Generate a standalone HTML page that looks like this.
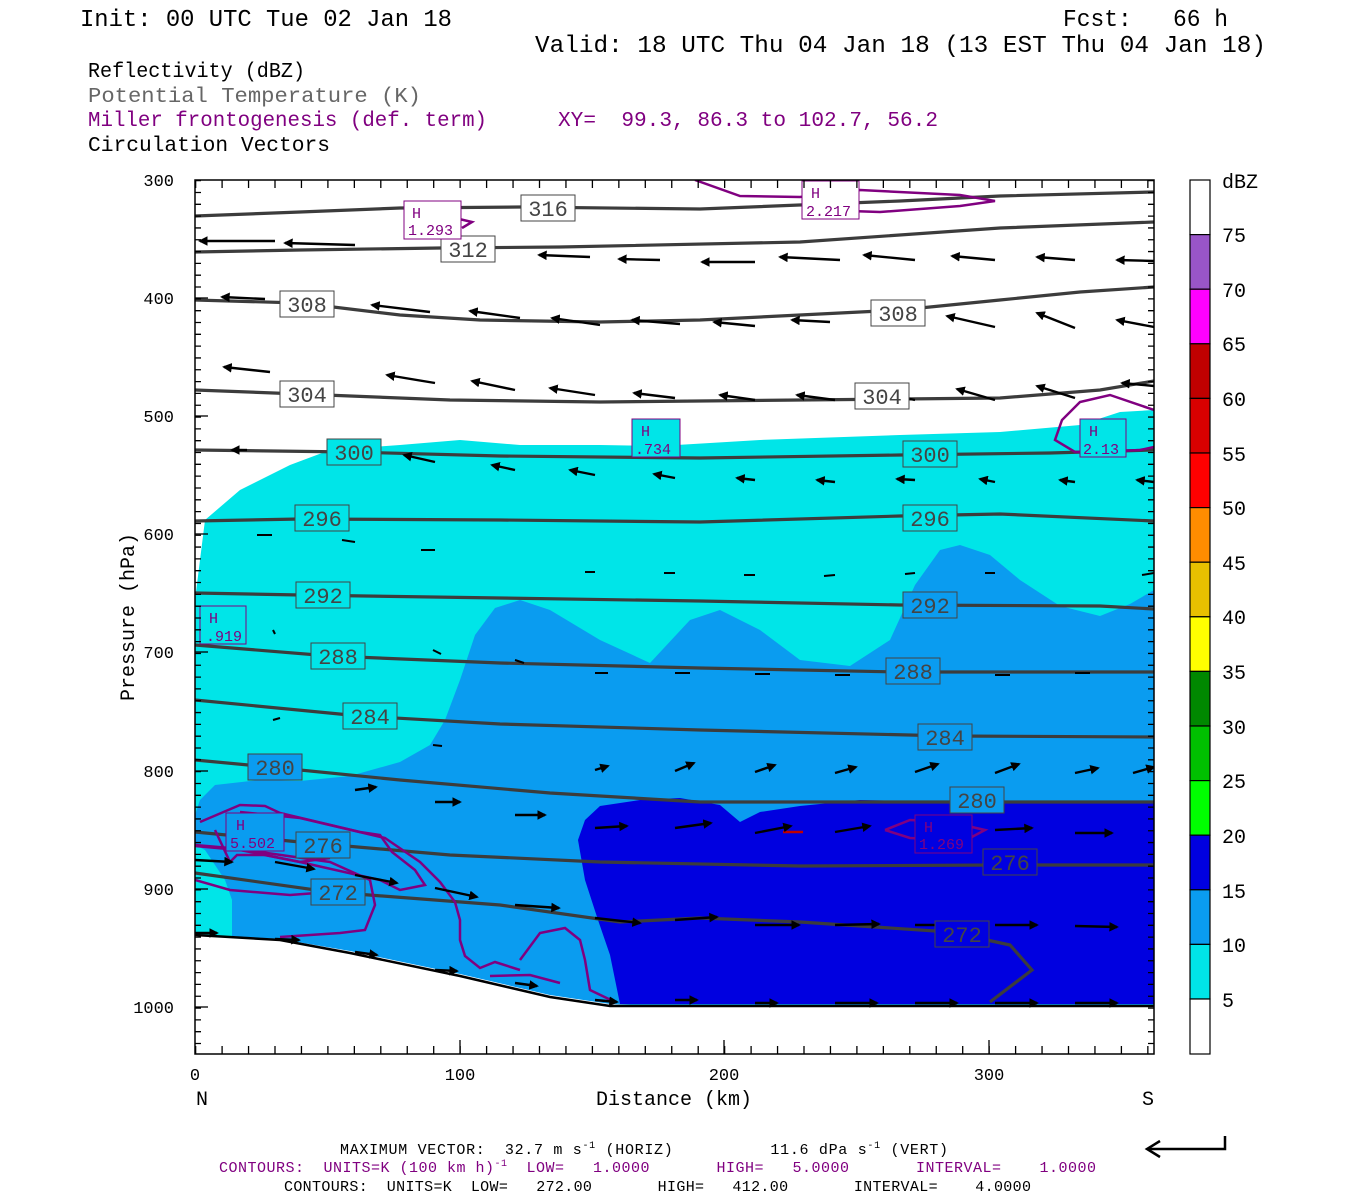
<!DOCTYPE html>
<html><head><meta charset="utf-8"><style>
html,body{margin:0;padding:0;background:#fff;}
svg{display:block;}
text{font-family:"Liberation Mono",monospace;white-space:pre;}
</style></head><body>
<svg width="1350" height="1200" viewBox="0 0 1350 1200" xmlns="http://www.w3.org/2000/svg" xml:space="preserve">
<defs>
<marker id="ah" markerWidth="4" markerHeight="4" refX="3.2" refY="2" orient="auto" markerUnits="strokeWidth">
<path d="M0,0 L4,2 L0,4 Z" fill="#000"/>
</marker>
<clipPath id="pc"><rect x="195" y="180" width="959" height="874"/></clipPath>
</defs>
<rect width="1350" height="1200" fill="#fff"/>

<text x="80" y="26" font-size="24" textLength="372" lengthAdjust="spacingAndGlyphs">Init: 00 UTC Tue 02 Jan 18</text>
<text x="1063" y="26" font-size="24" textLength="165" lengthAdjust="spacingAndGlyphs">Fcst:   66 h</text>
<text x="535" y="52" font-size="24" textLength="731" lengthAdjust="spacingAndGlyphs">Valid: 18 UTC Thu 04 Jan 18 (13 EST Thu 04 Jan 18)</text>
<text x="88" y="77" font-size="21" textLength="217" lengthAdjust="spacingAndGlyphs">Reflectivity (dBZ)</text>
<text x="88" y="102" font-size="21" fill="#666" textLength="333" lengthAdjust="spacingAndGlyphs">Potential Temperature (K)</text>
<text x="88" y="126" font-size="21" fill="#800080" textLength="399" lengthAdjust="spacingAndGlyphs">Miller frontogenesis (def. term)</text>
<text x="558" y="126" font-size="21" fill="#800080" textLength="380" lengthAdjust="spacingAndGlyphs">XY=  99.3, 86.3 to 102.7, 56.2</text>
<text x="88" y="151" font-size="21" textLength="242" lengthAdjust="spacingAndGlyphs">Circulation Vectors</text>

<g clip-path="url(#pc)">
<polygon fill="#00e5e8" points="195,600 205,520 240,490 290,465 330,450 400,445 460,440 520,445 600,445 660,446 760,440 900,435 1000,432 1080,425 1120,412 1154,410 1154,1010 195,1010"/>
<polygon fill="#0a9cf0" points="195,815 200,800 215,785 260,780 300,781 350,776 400,762 430,745 445,720 460,680 475,635 495,608 520,600 550,610 600,640 650,663 690,620 720,610 760,630 800,660 850,666 890,640 915,585 940,550 960,545 990,555 1020,580 1060,606 1100,616 1130,604 1154,590 1154,1010 230,1010 232,935 232,900 225,880 205,850 195,845"/>
<polygon fill="#0000e0" points="578,840 585,820 600,806 640,800 680,798 720,805 740,822 760,812 800,806 860,800 1000,803 1154,803 1154,1004 620,1004 610,955 598,920 585,880"/>
<polygon fill="#fff" points="195,934 280,939 350,951 460,974 550,995 610,1004 650,1006 1154,1006 1154,1054 195,1054"/>
<polyline fill="none" stroke="#000" stroke-width="2.5" points="195,935 280,940 350,953 460,976 550,997 610,1006 1154,1006"/>

<g fill="none" stroke="#3c3c3c" stroke-width="3.2">
<polyline points="195,216 300,212 400,208 520,207 700,209 900,201 1000,196 1154,192"/>
<polyline points="195,252 300,250 440,248 560,247 800,242 1000,228 1154,222"/>
<polyline points="195,300 300,303 400,315 480,320 600,322 700,320 800,315 900,310 1000,300 1080,292 1154,287"/>
<polyline points="195,390 300,394 450,400 600,402 800,400 1000,398 1100,390 1154,381"/>
<polyline points="195,450 350,452 500,456 700,458 900,455 1050,453 1154,450"/>
<polyline points="195,521 300,519 500,520 700,522 900,516 1000,514 1154,521"/>
<polyline points="195,593 300,595 500,598 700,601 900,605 1100,606 1154,609"/>
<polyline points="195,645 330,656 500,663 700,668 900,672 1154,672"/>
<polyline points="195,700 360,716 500,724 700,730 950,736 1154,737"/>
<polyline points="195,760 270,767 400,780 550,793 700,802 900,802 1000,802 1154,802"/>
<polyline points="195,832 300,842 450,855 600,862 800,866 1000,865 1154,865"/>
<polyline points="195,873 330,892 500,905 620,922 700,918 800,922 950,932 1010,945 1032,970 990,1002"/>
</g>

<g fill="none" stroke="#800080" stroke-width="2.5">
<polyline points="695,180 740,196 800,197 860,190 960,195 995,201 960,206 880,212 820,210"/>
<polyline points="455,218 472,222 462,228"/>
<polyline points="1154,410 1110,395 1080,402 1062,420 1055,440 1075,452 1100,452 1140,450 1154,447"/>
<polyline points="200,822 240,805 265,806 280,813 360,832 380,835 392,852 415,870 425,885 410,888 400,890 380,880 300,862 265,855 237,855 230,862 215,830"/>
<polyline points="240,812 300,818 385,838 420,862 440,882 455,902 460,920 460,940 465,956 480,968 495,962 520,970"/>
<polyline points="195,845 230,848 275,857 300,862 330,858"/>
<polyline points="195,846 260,852 330,862 370,880 375,905 365,930 340,933 280,937"/>
<polyline points="195,880 230,890 290,895 330,892"/>
<polyline points="490,976 530,975 560,983"/>
<polyline points="520,960 540,933 565,928 580,940 585,960 590,990 615,1002"/>
<polyline points="885,830 910,820 950,822 985,830 970,838 945,840 910,838 885,830"/>
<polyline points="783,832 803,832" stroke="#c00000"/>
</g>

<g stroke="#000" stroke-width="2.4" marker-end="url(#ah)" fill="none">
<line x1="275" y1="241" x2="200" y2="241"/>
<line x1="355" y1="245" x2="285" y2="243"/>
<line x1="590" y1="257" x2="539" y2="255"/>
<line x1="660" y1="260" x2="619" y2="259"/>
<line x1="755" y1="262" x2="702" y2="262"/>
<line x1="840" y1="260" x2="780" y2="257"/>
<line x1="915" y1="260" x2="864" y2="255"/>
<line x1="995" y1="260" x2="952" y2="256"/>
<line x1="1075" y1="260" x2="1037" y2="257"/>
<line x1="1154" y1="261" x2="1117" y2="260"/>
<line x1="265" y1="299" x2="222" y2="297"/>
<line x1="430" y1="312" x2="372" y2="305"/>
<line x1="520" y1="318" x2="470" y2="311"/>
<line x1="600" y1="325" x2="552" y2="318"/>
<line x1="680" y1="324" x2="632" y2="320"/>
<line x1="755" y1="326" x2="714" y2="322"/>
<line x1="830" y1="322" x2="792" y2="320"/>
<line x1="915" y1="320" x2="872" y2="316"/>
<line x1="995" y1="327" x2="947" y2="316"/>
<line x1="1075" y1="328" x2="1037" y2="313"/>
<line x1="1154" y1="327" x2="1117" y2="320"/>
<line x1="270" y1="372" x2="224" y2="367"/>
<line x1="435" y1="383" x2="387" y2="375"/>
<line x1="515" y1="390" x2="472" y2="381"/>
<line x1="595" y1="395" x2="550" y2="388"/>
<line x1="675" y1="398" x2="634" y2="393"/>
<line x1="755" y1="400" x2="720" y2="395"/>
<line x1="835" y1="400" x2="797" y2="395"/>
<line x1="915" y1="400" x2="882" y2="393"/>
<line x1="995" y1="400" x2="957" y2="389"/>
<line x1="1075" y1="398" x2="1037" y2="386"/>
<line x1="1154" y1="386" x2="1122" y2="383"/>
<line x1="247" y1="450" x2="232" y2="450"/>
<line x1="435" y1="462" x2="404" y2="455"/>
<line x1="515" y1="470" x2="492" y2="465"/>
<line x1="595" y1="475" x2="570" y2="470"/>
<line x1="675" y1="478" x2="654" y2="474"/>
<line x1="755" y1="480" x2="737" y2="478"/>
<line x1="835" y1="482" x2="817" y2="480"/>
<line x1="915" y1="480" x2="897" y2="479"/>
<line x1="995" y1="482" x2="980" y2="479"/>
<line x1="1075" y1="482" x2="1060" y2="480"/>
<line x1="1154" y1="482" x2="1137" y2="480"/>
<line x1="595" y1="770" x2="608" y2="766"/>
<line x1="675" y1="771" x2="694" y2="763"/>
<line x1="755" y1="772" x2="775" y2="765"/>
<line x1="835" y1="773" x2="856" y2="767"/>
<line x1="915" y1="772" x2="938" y2="764"/>
<line x1="995" y1="773" x2="1019" y2="764"/>
<line x1="1075" y1="773" x2="1098" y2="768"/>
<line x1="1133" y1="773" x2="1154" y2="767"/>
<line x1="355" y1="790" x2="376" y2="787"/>
<line x1="435" y1="802" x2="460" y2="802"/>
<line x1="515" y1="815" x2="545" y2="815"/>
<line x1="595" y1="828" x2="627" y2="826"/>
<line x1="675" y1="828" x2="711" y2="823"/>
<line x1="755" y1="833" x2="791" y2="826"/>
<line x1="835" y1="832" x2="870" y2="826"/>
<line x1="915" y1="830" x2="962" y2="828"/>
<line x1="995" y1="830" x2="1032" y2="828"/>
<line x1="1075" y1="833" x2="1112" y2="833"/>
<line x1="195" y1="860" x2="232" y2="862"/>
<line x1="275" y1="862" x2="314" y2="869"/>
<line x1="355" y1="875" x2="397" y2="883"/>
<line x1="435" y1="888" x2="477" y2="897"/>
<line x1="515" y1="905" x2="559" y2="908"/>
<line x1="595" y1="918" x2="640" y2="923"/>
<line x1="675" y1="920" x2="717" y2="917"/>
<line x1="755" y1="925" x2="799" y2="925"/>
<line x1="835" y1="925" x2="879" y2="924"/>
<line x1="915" y1="925" x2="957" y2="925"/>
<line x1="995" y1="925" x2="1037" y2="925"/>
<line x1="1075" y1="926" x2="1117" y2="927"/>
<line x1="195" y1="933" x2="217" y2="933"/>
<line x1="275" y1="939" x2="299" y2="940"/>
<line x1="355" y1="952" x2="377" y2="955"/>
<line x1="435" y1="970" x2="457" y2="971"/>
<line x1="515" y1="983" x2="537" y2="986"/>
<line x1="595" y1="1000" x2="617" y2="1002"/>
<line x1="675" y1="1000" x2="697" y2="1000"/>
<line x1="755" y1="1003" x2="777" y2="1003"/>
<line x1="835" y1="1003" x2="877" y2="1003"/>
<line x1="915" y1="1003" x2="957" y2="1003"/>
<line x1="995" y1="1003" x2="1037" y2="1003"/>
<line x1="1075" y1="1003" x2="1117" y2="1003"/>
</g>
<g stroke="#000" stroke-width="2" fill="none">
<line x1="272" y1="535" x2="257" y2="535"/>
<line x1="355" y1="542" x2="342" y2="540"/>
<line x1="435" y1="550" x2="421" y2="550"/>
<line x1="595" y1="572" x2="585" y2="572"/>
<line x1="675" y1="573" x2="664" y2="573"/>
<line x1="755" y1="575" x2="744" y2="575"/>
<line x1="835" y1="575" x2="824" y2="576"/>
<line x1="915" y1="573" x2="905" y2="574"/>
<line x1="995" y1="573" x2="985" y2="573"/>
<line x1="1154" y1="573" x2="1142" y2="575"/>
<line x1="595" y1="673" x2="608" y2="673"/>
<line x1="675" y1="673" x2="690" y2="673"/>
<line x1="755" y1="674" x2="770" y2="674"/>
<line x1="835" y1="675" x2="850" y2="675"/>
<line x1="995" y1="675" x2="1010" y2="675"/>
<line x1="1075" y1="673" x2="1090" y2="673"/>
<line x1="515" y1="660" x2="524" y2="663"/>
<line x1="433" y1="650" x2="441" y2="654"/>
<line x1="273" y1="630" x2="275" y2="634"/>
<line x1="273" y1="720" x2="280" y2="718"/>
<line x1="433" y1="745" x2="442" y2="746"/>
</g>

<g font-size="22" text-anchor="middle">
<rect x="521" y="195" width="54" height="26" fill="#fff" stroke="#444"/><text x="548" y="216" fill="#444">316</text>
<rect x="441" y="236" width="54" height="26" fill="#fff" stroke="#444"/><text x="468" y="257" fill="#444">312</text>
<rect x="280" y="291" width="54" height="26" fill="#fff" stroke="#444"/><text x="307" y="312" fill="#444">308</text>
<rect x="871" y="300" width="54" height="26" fill="#fff" stroke="#444"/><text x="898" y="321" fill="#444">308</text>
<rect x="280" y="381" width="54" height="26" fill="#fff" stroke="#444"/><text x="307" y="402" fill="#444">304</text>
<rect x="855" y="383" width="54" height="26" fill="#fff" stroke="#444"/><text x="882" y="404" fill="#444">304</text>
<rect x="327" y="439" width="54" height="26" fill="#00e5e8" stroke="#444"/><text x="354" y="460" fill="#444">300</text>
<rect x="903" y="441" width="54" height="26" fill="#00e5e8" stroke="#444"/><text x="930" y="462" fill="#444">300</text>
<rect x="295" y="505" width="54" height="26" fill="#00e5e8" stroke="#444"/><text x="322" y="526" fill="#444">296</text>
<rect x="903" y="505" width="54" height="26" fill="#00e5e8" stroke="#444"/><text x="930" y="526" fill="#444">296</text>
<rect x="296" y="582" width="54" height="26" fill="#00e5e8" stroke="#444"/><text x="323" y="603" fill="#444">292</text>
<rect x="903" y="592" width="54" height="26" fill="#0a9cf0" stroke="#444"/><text x="930" y="613" fill="#444">292</text>
<rect x="311" y="643" width="54" height="26" fill="#00e5e8" stroke="#444"/><text x="338" y="664" fill="#444">288</text>
<rect x="886" y="658" width="54" height="26" fill="#0a9cf0" stroke="#444"/><text x="913" y="679" fill="#444">288</text>
<rect x="343" y="703" width="54" height="26" fill="#00e5e8" stroke="#444"/><text x="370" y="724" fill="#444">284</text>
<rect x="918" y="724" width="54" height="26" fill="#0a9cf0" stroke="#444"/><text x="945" y="745" fill="#444">284</text>
<rect x="248" y="754" width="54" height="26" fill="#0a9cf0" stroke="#444"/><text x="275" y="775" fill="#444">280</text>
<rect x="950" y="787" width="54" height="26" fill="#0a9cf0" stroke="#444"/><text x="977" y="808" fill="#444">280</text>
<rect x="296" y="832" width="54" height="26" fill="#0a9cf0" stroke="#444"/><text x="323" y="853" fill="#444">276</text>
<rect x="983" y="849" width="54" height="26" fill="#0000e0" stroke="#444"/><text x="1010" y="870" fill="#444">276</text>
<rect x="311" y="879" width="54" height="26" fill="#0a9cf0" stroke="#444"/><text x="338" y="900" fill="#444">272</text>
<rect x="935" y="921" width="54" height="26" fill="#0000e0" stroke="#444"/><text x="962" y="942" fill="#444">272</text>
</g>

<g font-size="15" fill="#800080" font-family="Liberation Serif, serif">
<rect x="404" y="201" width="57" height="38" fill="#fff" stroke="#800080"/><text x="412" y="218">H</text><text x="408" y="235">1.293</text>
<rect x="802" y="181" width="57" height="38" fill="#fff" stroke="#800080"/><text x="811" y="198">H</text><text x="806" y="216">2.217</text>
<rect x="632" y="419" width="48" height="38" fill="#00e5e8" stroke="#800080"/><text x="641" y="436">H</text><text x="635" y="454">.734</text>
<rect x="1080" y="419" width="46" height="38" fill="#00e5e8" stroke="#800080"/><text x="1089" y="436">H</text><text x="1083" y="454">2.13</text>
<rect x="200" y="606" width="46" height="38" fill="#00e5e8" stroke="#800080"/><text x="209" y="623">H</text><text x="206" y="641">.919</text>
<rect x="226" y="813" width="58" height="38" fill="#0a9cf0" stroke="#800080"/><text x="236" y="830">H</text><text x="230" y="848">5.502</text>
<rect x="915" y="815" width="57" height="38" fill="#0000e0" stroke="#800080"/><text x="924" y="832">H</text><text x="919" y="849">1.269</text>
</g>
</g>

<g stroke="#000">
<line x1="198" y1="180" x2="198" y2="1054" stroke-width="6" stroke-dasharray="1.3 10.52"/>
<line x1="1151" y1="180" x2="1151" y2="1054" stroke-width="6" stroke-dasharray="1.3 10.52"/>
<line x1="195" y1="1050" x2="1154" y2="1050" stroke-width="8" stroke-dasharray="1.3 25.15"/>
<line x1="195" y1="184" x2="1154" y2="184" stroke-width="8" stroke-dasharray="1.3 25.15"/>
<g stroke-width="1.3">
<line x1="195" y1="298" x2="208" y2="298"/><line x1="195" y1="416" x2="208" y2="416"/><line x1="195" y1="534" x2="208" y2="534"/><line x1="195" y1="652" x2="208" y2="652"/><line x1="195" y1="771" x2="208" y2="771"/><line x1="195" y1="889" x2="208" y2="889"/><line x1="195" y1="1007" x2="208" y2="1007"/>
<line x1="460" y1="1054" x2="460" y2="1040"/><line x1="724" y1="1054" x2="724" y2="1040"/><line x1="989" y1="1054" x2="989" y2="1040"/>
</g>
</g>
<rect x="195" y="180" width="959" height="874" fill="none" stroke="#000" stroke-width="1.5"/>

<g font-size="17" text-anchor="end">
<text x="174" y="186">300</text><text x="174" y="304">400</text><text x="174" y="422">500</text><text x="174" y="540">600</text><text x="174" y="658">700</text><text x="174" y="777">800</text><text x="174" y="895">900</text><text x="174" y="1013">1000</text>
</g>
<text transform="translate(134,617) rotate(-90)" font-size="20" text-anchor="middle">Pressure (hPa)</text>
<g font-size="17" text-anchor="middle">
<text x="195" y="1080">0</text><text x="460" y="1080">100</text><text x="724" y="1080">200</text><text x="989" y="1080">300</text>
</g>
<text x="202" y="1105" font-size="20" text-anchor="middle">N</text>
<text x="1148" y="1105" font-size="20" text-anchor="middle">S</text>
<text x="674" y="1105" font-size="20" text-anchor="middle">Distance (km)</text>

<g stroke="#000" stroke-width="1.2">
<rect x="1190" y="180" width="20" height="54.6" fill="#fff"/>
<rect x="1190" y="234.6" width="20" height="54.6" fill="#9955c8"/>
<rect x="1190" y="289.2" width="20" height="54.6" fill="#ff00ff"/>
<rect x="1190" y="343.8" width="20" height="54.6" fill="#c00000"/>
<rect x="1190" y="398.4" width="20" height="54.6" fill="#d80000"/>
<rect x="1190" y="453" width="20" height="54.6" fill="#ff0000"/>
<rect x="1190" y="507.6" width="20" height="54.6" fill="#ff8c00"/>
<rect x="1190" y="562.2" width="20" height="54.6" fill="#e8c000"/>
<rect x="1190" y="616.8" width="20" height="54.6" fill="#ffff00"/>
<rect x="1190" y="671.4" width="20" height="54.6" fill="#008800"/>
<rect x="1190" y="726" width="20" height="54.6" fill="#00c000"/>
<rect x="1190" y="780.6" width="20" height="54.6" fill="#00ff00"/>
<rect x="1190" y="835.2" width="20" height="54.6" fill="#0000e0"/>
<rect x="1190" y="889.8" width="20" height="54.6" fill="#0a9cf0"/>
<rect x="1190" y="944.4" width="20" height="54.6" fill="#00e5e8"/>
<rect x="1190" y="999" width="20" height="55" fill="#fff"/>
</g>
<g font-size="20">
<text x="1222" y="188">dBZ</text>
<text x="1222" y="242">75</text><text x="1222" y="297">70</text><text x="1222" y="351">65</text><text x="1222" y="406">60</text><text x="1222" y="461">55</text><text x="1222" y="515">50</text><text x="1222" y="570">45</text><text x="1222" y="624">40</text><text x="1222" y="679">35</text><text x="1222" y="734">30</text><text x="1222" y="788">25</text><text x="1222" y="843">20</text><text x="1222" y="898">15</text><text x="1222" y="952">10</text><text x="1222" y="1007">5</text>
</g>

<text x="340" y="1154" font-size="15" font-family="Liberation Serif, serif" textLength="608" lengthAdjust="spacing">MAXIMUM VECTOR:  32.7 m s<tspan dy="-6" font-size="10">-1</tspan><tspan dy="6"> (HORIZ)          11.6 dPa s</tspan><tspan dy="-6" font-size="10">-1</tspan><tspan dy="6"> (VERT)</tspan></text>
<text x="219" y="1172" font-size="15" fill="#800080" font-family="Liberation Serif, serif" textLength="877" lengthAdjust="spacing">CONTOURS:  UNITS=K (100 km h)<tspan dy="-6" font-size="10">-1</tspan><tspan dy="6">  LOW=   1.0000       HIGH=   5.0000       INTERVAL=    1.0000</tspan></text>
<text x="284" y="1191" font-size="15" font-family="Liberation Serif, serif" textLength="747" lengthAdjust="spacing">CONTOURS:  UNITS=K  LOW=   272.00       HIGH=   412.00       INTERVAL=    4.0000</text>
<g stroke="#000" stroke-width="2.5" fill="none">
<polyline points="1225,1136 1225,1149 1148,1149"/>
<polyline points="1160,1141 1147,1149 1160,1157"/>
</g>
</svg>
</body></html>
